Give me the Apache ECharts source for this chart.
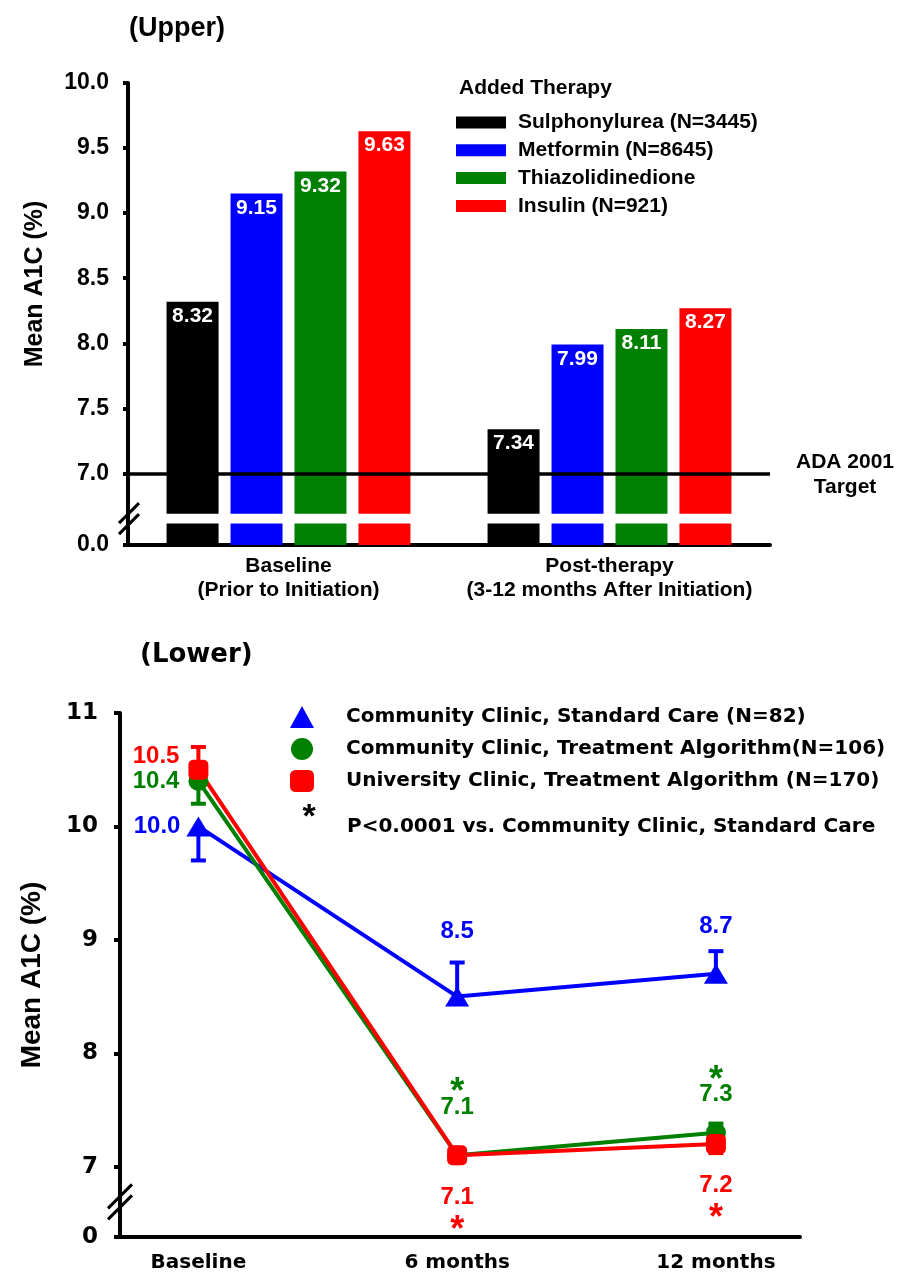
<!DOCTYPE html>
<html>
<head>
    <meta charset="UTF-8"/>
    <title>Mean A1C</title>
    <script src="https://cdn.jsdelivr.net/npm/echarts@6/dist/echarts.min.js"></script>
    <style>
        html, body { margin: 0; padding: 0; background: #fff; }
        #charts { width: 904px; height: 1276px; }
    </style>
</head>
<body>
<div id="charts"></div>
<script>
    // ---- upper panel data
    var upperCategories = ['Baseline\n(Prior to Initiation)', 'Post-therapy\n(3-12 months After Initiation)'];
    var therapyNames = ['Sulphonylurea (N=3445)', 'Metformin (N=8645)', 'Thiazolidinedione', 'Insulin (N=921)'];
    var sulphonylurea = [8.32, 7.34];
    var metformin = [9.15, 7.99];
    var thiazolidinedione = [9.32, 8.11];
    var insulin = [9.63, 8.27];
    var upperTicks = [0, 7.0, 7.5, 8.0, 8.5, 9.0, 9.5, 10.0];
    var adaTarget = 7.0;

    // ---- lower panel data
    var lowerCategories = ['Baseline', '6 months', '12 months'];
    var clinicNames = ['Community Clinic, Standard Care (N=82)', 'Community Clinic, Treatment Algorithm(N=106)', 'University Clinic, Treatment Algorithm (N=170)'];
    var standardCare = [10.0, 8.5, 8.7];
    var standardCareErr = [-0.3, 0.3, 0.2];
    var communityAlgo = [10.4, 7.1, 7.3];
    var communityAlgoErr = [-0.2, 0.05, 0.08];
    var universityAlgo = [10.5, 7.1, 7.2];
    var universityAlgoErr = [0.2, -0.05, -0.08];
    var communitySig = [false, true, true];
    var universitySig = [false, true, true];
    var lowerTicks = [0, 7, 8, 9, 10, 11];

    // axis breaks: where "0" sits on the broken axes
    var upperZero = 6.45, lowerZero = 6.38;
    var upperGap = [6.615, 6.69];

    var FONT_A = '"Liberation Sans", Arial, sans-serif';
    var FONT_B = '"DejaVu Sans", sans-serif';
    var BLACK = '#000000', BLUE = '#0000ff', GREEN = '#008000', RED = '#ff0000';

    var G0 = {left: 128, right: 134, top: 83, bottom: 731};
    var G1 = {left: 120, right: 104, top: 713, bottom: 39};

    var myChart = echarts.init(document.getElementById('charts'));

    function barSeries(name, values, color) {
        return {
            name: name,
            type: 'bar',
            xAxisIndex: 0,
            yAxisIndex: 0,
            barWidth: 52,
            barGap: '23%',
            itemStyle: {color: color},
            label: {
                show: true, position: 'insideTop', distance: 4,
                color: '#fff', fontFamily: FONT_A, fontSize: 21, fontWeight: 'bold',
                formatter: function (p) { return p.value.toFixed(2); }
            },
            data: values
        };
    }

    var numStyle = {fontFamily: FONT_A, fontSize: 24, fontWeight: 'bold', lineHeight: 24};
    // the asterisk glyph sits high in its line, so the two placements get different line heights
    var starAbove = {fontFamily: FONT_A, fontSize: 36, fontWeight: 'bold', lineHeight: 4};
    var starBelow = {fontFamily: FONT_A, fontSize: 36, fontWeight: 'bold', lineHeight: 44};

    function pointLabel(color, value, place, star) {
        var num = '{v|' + value.toFixed(1) + '}';
        var text = num;
        if (star) text = place[0] === 'top' ? '{a|*}\n' + num : num + '\n{b|*}';
        return {
            show: true, position: place[0], distance: place[1], offset: place[2] || [0, 0],
            formatter: text, color: color,
            rich: {
                v: Object.assign({color: color}, numStyle),
                a: Object.assign({color: color}, starAbove),
                b: Object.assign({color: color}, starBelow)
            }
        };
    }

    function lineSeries(name, values, sig, color, symbol, size, places) {
        return {
            name: name,
            type: 'line',
            xAxisIndex: 1,
            yAxisIndex: 1,
            z: 3,
            symbol: symbol,
            symbolSize: size,
            lineStyle: {color: color, width: 4},
            itemStyle: {color: color},
            data: values.map(function (v, i) {
                return {value: [i, v], label: pointLabel(color, v, places[i], sig && sig[i])};
            })
        };
    }

    function renderErrorBar(params, api) {
        var x = api.value(0), y = api.value(1), e = api.value(2);
        var p0 = api.coord([x, y]);
        var p1 = api.coord([x, y + e]);
        var style = {stroke: api.visual('color'), lineWidth: 4};
        return {
            type: 'group',
            children: [
                {type: 'line', shape: {x1: p0[0], y1: p0[1], x2: p1[0], y2: p1[1]}, style: style},
                {type: 'line', shape: {x1: p1[0] - 7.5, y1: p1[1], x2: p1[0] + 7.5, y2: p1[1]}, style: style}
            ]
        };
    }

    function errorSeries(values, errs, color) {
        return {
            type: 'custom',
            xAxisIndex: 1,
            yAxisIndex: 1,
            z: 2,
            silent: true,
            itemStyle: {color: color},
            renderItem: renderErrorBar,
            encode: {x: 0, y: 1},
            data: values.map(function (v, i) { return [i, v, errs[i]]; })
        };
    }

    var upperTickVals = upperTicks.map(function (t) { return t === 0 ? upperZero : t; });
    var lowerTickVals = lowerTicks.map(function (t) { return t === 0 ? lowerZero : t; });

    var option = {
        animation: false,
        textStyle: {fontFamily: FONT_A, color: '#000'},
        grid: [G0, G1],
        legend: [
            {
                data: therapyNames,
                orient: 'vertical',
                left: 456, top: 112, padding: 0,
                itemWidth: 50, itemHeight: 12, itemGap: 6.8,
                icon: 'rect',
                textStyle: {fontFamily: FONT_A, fontSize: 21, fontWeight: 'bold', color: '#000', lineHeight: 21, padding: [0, 0, 0, 7]}
            },
            {
                data: [
                    {name: clinicNames[0], icon: 'triangle'},
                    {name: clinicNames[1], icon: 'circle'},
                    {name: clinicNames[2], icon: 'roundRect'}
                ],
                orient: 'vertical',
                left: 290, top: 706, padding: 0,
                itemWidth: 24, itemHeight: 22, itemGap: 10,
                textStyle: {fontFamily: FONT_B, fontSize: 20, fontWeight: 'bold', color: '#000', lineHeight: 22, padding: [0, 0, 0, 27]}
            }
        ],
        xAxis: [
            {
                type: 'category', gridIndex: 0, data: upperCategories,
                axisLine: {onZero: false, lineStyle: {color: '#000', width: 4}},
                axisTick: {show: false},
                axisLabel: {interval: 0, color: '#000', fontFamily: FONT_A, fontSize: 21, fontWeight: 'bold', lineHeight: 24, margin: 9}
            },
            {
                type: 'value', gridIndex: 1, min: -0.303, max: 2.325,
                axisLine: {onZero: false, lineStyle: {color: '#000', width: 4}},
                axisTick: {show: false},
                splitLine: {show: false},
                axisLabel: {
                    customValues: [0, 1, 2],
                    formatter: function (v) { return lowerCategories[Math.round(v)]; },
                    color: '#000', fontFamily: FONT_B, fontSize: 20, fontWeight: 'bold', margin: 16
                }
            }
        ],
        yAxis: [
            {
                type: 'value', gridIndex: 0, min: upperZero, max: 10,
                axisLine: {show: true, onZero: false, lineStyle: {color: '#000', width: 4}},
                axisTick: {show: true, customValues: upperTickVals, length: 5, lineStyle: {color: '#000', width: 4}},
                splitLine: {show: false},
                axisLabel: {
                    customValues: upperTickVals,
                    formatter: function (v) { return v < 6.9 ? '0.0' : v.toFixed(1); },
                    color: '#000', fontFamily: FONT_A, fontSize: 23, fontWeight: 'bold', margin: 19
                }
            },
            {
                type: 'value', gridIndex: 1, min: lowerZero, max: 11,
                axisLine: {show: true, onZero: false, lineStyle: {color: '#000', width: 4}},
                axisTick: {show: true, customValues: lowerTickVals, length: 6, lineStyle: {color: '#000', width: 4}},
                splitLine: {show: false},
                axisLabel: {
                    customValues: lowerTickVals,
                    formatter: function (v) { return v < 6.9 ? '0' : String(Math.round(v)); },
                    color: '#000', fontFamily: FONT_B, fontSize: 23, fontWeight: 'bold', margin: 22
                }
            }
        ],
        series: [
            barSeries(therapyNames[0], sulphonylurea, BLACK),
            barSeries(therapyNames[1], metformin, BLUE),
            barSeries(therapyNames[2], thiazolidinedione, GREEN),
            Object.assign(barSeries(therapyNames[3], insulin, RED), {
                markLine: {
                    silent: true, symbol: ['none', 'none'],
                    label: {show: false},
                    lineStyle: {color: '#000', width: 3.5, type: 'solid'},
                    data: [{yAxis: adaTarget}]
                }
            }),
            errorSeries(standardCare, standardCareErr, BLUE),
            errorSeries(communityAlgo, communityAlgoErr, GREEN),
            errorSeries(universityAlgo, universityAlgoErr, RED),
            lineSeries(clinicNames[0], standardCare, null, BLUE, 'triangle', [24, 20],
                [['left', 6], ['top', 43], ['top', 25]]),
            lineSeries(clinicNames[1], communityAlgo, communitySig, GREEN, 'circle', 20,
                [['left', 9], ['top', 26], ['top', 16]]),
            lineSeries(clinicNames[2], universityAlgo, universitySig, RED, 'roundRect', 20,
                [['left', 9, [0, -13]], ['bottom', 20], ['bottom', 19]])
        ]
    };
    myChart.setOption(option);

    // break marks and the white gap drawn from the axes' own pixel scale
    function breakMarks(cx, cy, half, sep) {
        return [-sep / 2, sep / 2].map(function (d) {
            return {
                type: 'line', z: 20,
                shape: {x1: cx - half, y1: cy + d + half, x2: cx + half, y2: cy + d - half},
                style: {stroke: '#000', lineWidth: 3}
            };
        });
    }

    var gapTop = myChart.convertToPixel({yAxisIndex: 0}, upperGap[1]);
    var gapBottom = myChart.convertToPixel({yAxisIndex: 0}, upperGap[0]);
    var lowerBreak = myChart.convertToPixel({yAxisIndex: 1}, (lowerZero + 7) / 2);
    var boldA = function (size) { return 'bold ' + size + 'px ' + FONT_A; };
    var boldB = function (size) { return 'bold ' + size + 'px ' + FONT_B; };

    var graphics = [
        {
            type: 'rect', z: 10,
            shape: {x: G0.left + 2, y: gapTop, width: 904 - G0.right - G0.left - 2, height: gapBottom - gapTop},
            style: {fill: '#fff'}
        }
    ].concat(breakMarks(G0.left + 1, (gapTop + gapBottom) / 2, 10, 11))
        .concat(breakMarks(G1.left, lowerBreak, 12, 11))
        .concat([
            {type: 'text', x: 129, y: 29, style: {text: '(Upper)', font: boldA(27), fill: '#000', verticalAlign: 'middle'}},
            {type: 'text', x: 140, y: 655, style: {text: '(Lower)', font: boldB(26), fill: '#000', verticalAlign: 'middle'}},
            {type: 'text', x: 459, y: 88, style: {text: 'Added Therapy', font: boldA(21), fill: '#000', verticalAlign: 'middle'}},
            {type: 'text', x: 845, y: 474.5, style: {text: 'ADA 2001\nTarget', font: boldA(21), lineHeight: 25, fill: '#000', align: 'center', verticalAlign: 'middle'}},
            {type: 'text', x: 35, y: 284, rotation: Math.PI / 2, style: {text: 'Mean A1C (%)', font: boldA(25), fill: '#000', align: 'center', verticalAlign: 'middle'}},
            {type: 'text', x: 32, y: 975, rotation: Math.PI / 2, style: {text: 'Mean A1C (%)', font: boldA(28), fill: '#000', align: 'center', verticalAlign: 'middle'}},
            {type: 'text', x: 309, y: 818, style: {text: '*', font: boldA(34), fill: '#000', align: 'center', verticalAlign: 'middle'}},
            {type: 'text', x: 347, y: 827, style: {text: 'P<0.0001 vs. Community Clinic, Standard Care', font: boldB(20), fill: '#000', verticalAlign: 'middle'}}
        ]);
    myChart.setOption({graphic: graphics});
</script>
</body>
</html>
